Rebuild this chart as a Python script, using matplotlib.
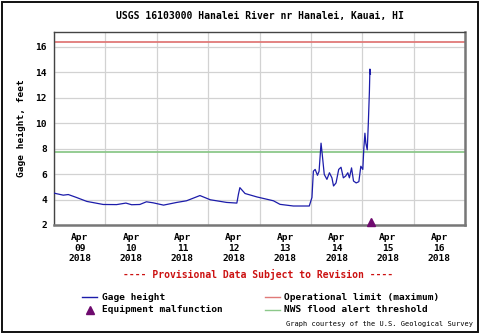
import matplotlib
matplotlib.use("Agg")
import matplotlib.pyplot as plt
from matplotlib.lines import Line2D
from matplotlib.patches import Rectangle
import pandas as pd

# Gage height record, Hanalei River (HST)
times = [
    "2018-04-09 00:00", "2018-04-09 04:20", "2018-04-09 06:40", "2018-04-09 10:30",
    "2018-04-09 15:20", "2018-04-09 23:00", "2018-04-10 05:15", "2018-04-10 09:35",
    "2018-04-10 12:15", "2018-04-10 16:05", "2018-04-10 19:10", "2018-04-10 22:20",
    "2018-04-11 03:10", "2018-04-11 09:20", "2018-04-11 13:55", "2018-04-11 20:10",
    "2018-04-12 01:00", "2018-04-12 08:40", "2018-04-12 13:25", "2018-04-12 14:10",
    "2018-04-12 14:50", "2018-04-12 17:15", "2018-04-12 22:50", "2018-04-13 06:30",
    "2018-04-13 09:35", "2018-04-13 15:50", "2018-04-13 23:15", "2018-04-14 00:30",
    "2018-04-14 01:10", "2018-04-14 02:00", "2018-04-14 03:05", "2018-04-14 03:50",
    "2018-04-14 04:45", "2018-04-14 05:20", "2018-04-14 06:15", "2018-04-14 07:30",
    "2018-04-14 08:40", "2018-04-14 09:50", "2018-04-14 10:35", "2018-04-14 11:45",
    "2018-04-14 13:00", "2018-04-14 14:05", "2018-04-14 15:10", "2018-04-14 16:15",
    "2018-04-14 17:15", "2018-04-14 18:00", "2018-04-14 19:00", "2018-04-14 19:55",
    "2018-04-14 21:10", "2018-04-14 22:25", "2018-04-14 23:20", "2018-04-15 00:15",
    "2018-04-15 00:45", "2018-04-15 01:15", "2018-04-15 01:40", "2018-04-15 02:20",
    "2018-04-15 02:50", "2018-04-15 03:20", "2018-04-15 03:35", "2018-04-15 03:50",
]
gage_ft = [
    4.50, 4.34, 4.39, 4.16,
    3.85, 3.61, 3.60, 3.72,
    3.59, 3.61, 3.82, 3.74,
    3.56, 3.77, 3.90, 4.31,
    3.98, 3.77, 3.72, 4.42,
    4.93, 4.47, 4.20, 3.90,
    3.62, 3.49, 3.49, 4.16,
    6.22, 6.36, 5.90, 6.22,
    8.42, 7.50, 5.97, 5.58,
    6.10, 5.70, 5.06, 5.30,
    6.36, 6.53, 5.70, 5.84,
    6.10, 5.70, 6.48, 5.45,
    5.30, 5.40, 6.61, 6.36,
    8.03, 9.20, 8.42, 7.90,
    9.97, 12.43, 14.23, 13.85,
]
malfunction_times = ["2018-04-15 04:05"]
malfunction_level = [2.2]

operational_limit = 16.33
flood_alert = 7.7

day_labels = ["Apr\n09\n2018", "Apr\n10\n2018", "Apr\n11\n2018", "Apr\n12\n2018",
              "Apr\n13\n2018", "Apr\n14\n2018", "Apr\n15\n2018", "Apr\n16\n2018"]
y_ticks = [2, 4, 6, 8, 10, 12, 14, 16]

MONO = "DejaVu Sans Mono"
BLUE = "#1c1caa"
RED_LIM = "#e07a78"
GREEN_LIM = "#8cc88a"
PURPLE = "#6e0a6e"

t = pd.to_datetime(times)
tm = pd.to_datetime(malfunction_times)

fig = plt.figure(figsize=(4.8, 3.33), dpi=100)
ax = fig.add_axes([54 / 480, 1 - 225 / 333, (465 - 54) / 480, (225 - 32) / 333])

start = pd.Timestamp("2018-04-09")
end = pd.Timestamp("2018-04-17")
midnights = pd.date_range(start, end, freq="D")
noons = pd.date_range("2018-04-09 12:00", "2018-04-16 12:00", freq="D")

ax.set_xlim(start, end)
ax.set_ylim(2, 17.14)

# grid at day boundaries, labels centred on each day
ax.set_xticks(midnights)
ax.set_xticklabels([])
ax.set_xticks(noons, minor=True)
ax.set_xticklabels(day_labels, minor=True, fontfamily=MONO, fontweight="bold",
                   fontsize=6.8, linespacing=1.2)
ax.tick_params(axis="x", which="both", length=0, pad=6)
ax.set_yticks(y_ticks)
ax.set_yticklabels([str(v) for v in y_ticks], fontfamily=MONO, fontweight="bold",
                   fontsize=6.8)
ax.tick_params(axis="y", length=0, pad=5)
ax.grid(True, which="major", color="#d2d2d2", linewidth=0.9)
ax.set_axisbelow(True)

ax.axhline(operational_limit, color=RED_LIM, linewidth=1.3, zorder=2)
ax.axhline(flood_alert, color=GREEN_LIM, linewidth=1.3, zorder=2)
ax.plot(t, gage_ft, color=BLUE, linewidth=0.9, zorder=3)
ax.plot(tm, malfunction_level, linestyle="none", marker="^", markersize=6,
        color=PURPLE, clip_on=False, zorder=4)

for side in ("top", "left"):
    ax.spines[side].set_color("#444444")
    ax.spines[side].set_linewidth(1.0)
for side in ("bottom", "right"):
    ax.spines[side].set_color("#777777")
    ax.spines[side].set_linewidth(1.8)

ax.set_ylabel("Gage height, feet", fontfamily=MONO, fontweight="bold",
              fontsize=6.8, labelpad=7)

fig.text(259.5 / 480, 1 - 16 / 333, "USGS 16103000 Hanalei River nr Hanalei, Kauai, HI",
         ha="center", va="center", fontfamily=MONO, fontweight="bold", fontsize=7)
fig.text(258 / 480, 1 - 274 / 333, "---- Provisional Data Subject to Revision ----",
         ha="center", va="center", fontfamily=MONO, fontweight="bold", fontsize=7,
         color="#cc1111")

# legend
def legend_line(x0, x1, y, color):
    fig.add_artist(Line2D([x0 / 480, x1 / 480], [1 - y / 333, 1 - y / 333],
                          color=color, linewidth=1.0, transform=fig.transFigure))

def legend_text(x, y, s):
    fig.text(x / 480, 1 - y / 333, s, ha="left", va="center", fontfamily=MONO,
             fontweight="bold", fontsize=6.8)

legend_line(82, 97, 297, BLUE)
legend_text(102, 297, "Gage height")
fig.add_artist(Line2D([89.5 / 480], [1 - 310 / 333], marker="^", markersize=6,
                      color=PURPLE, linestyle="none", transform=fig.transFigure))
legend_text(102, 310, "Equipment malfunction")
legend_line(265, 280, 297, RED_LIM)
legend_text(284, 297, "Operational limit (maximum)")
legend_line(265, 280, 310, GREEN_LIM)
legend_text(284, 310, "NWS flood alert threshold")

fig.text(473 / 480, 1 - 324 / 333, "Graph courtesy of the U.S. Geological Survey",
         ha="right", va="center", fontfamily=MONO, fontsize=5)

# outer frame
fig.add_artist(Rectangle((1.5 / 480, 1.5 / 333), 476 / 480, 330 / 333, fill=False,
                         edgecolor="#111111", linewidth=1.4, transform=fig.transFigure))

fig.savefig("out.png", dpi=100)
